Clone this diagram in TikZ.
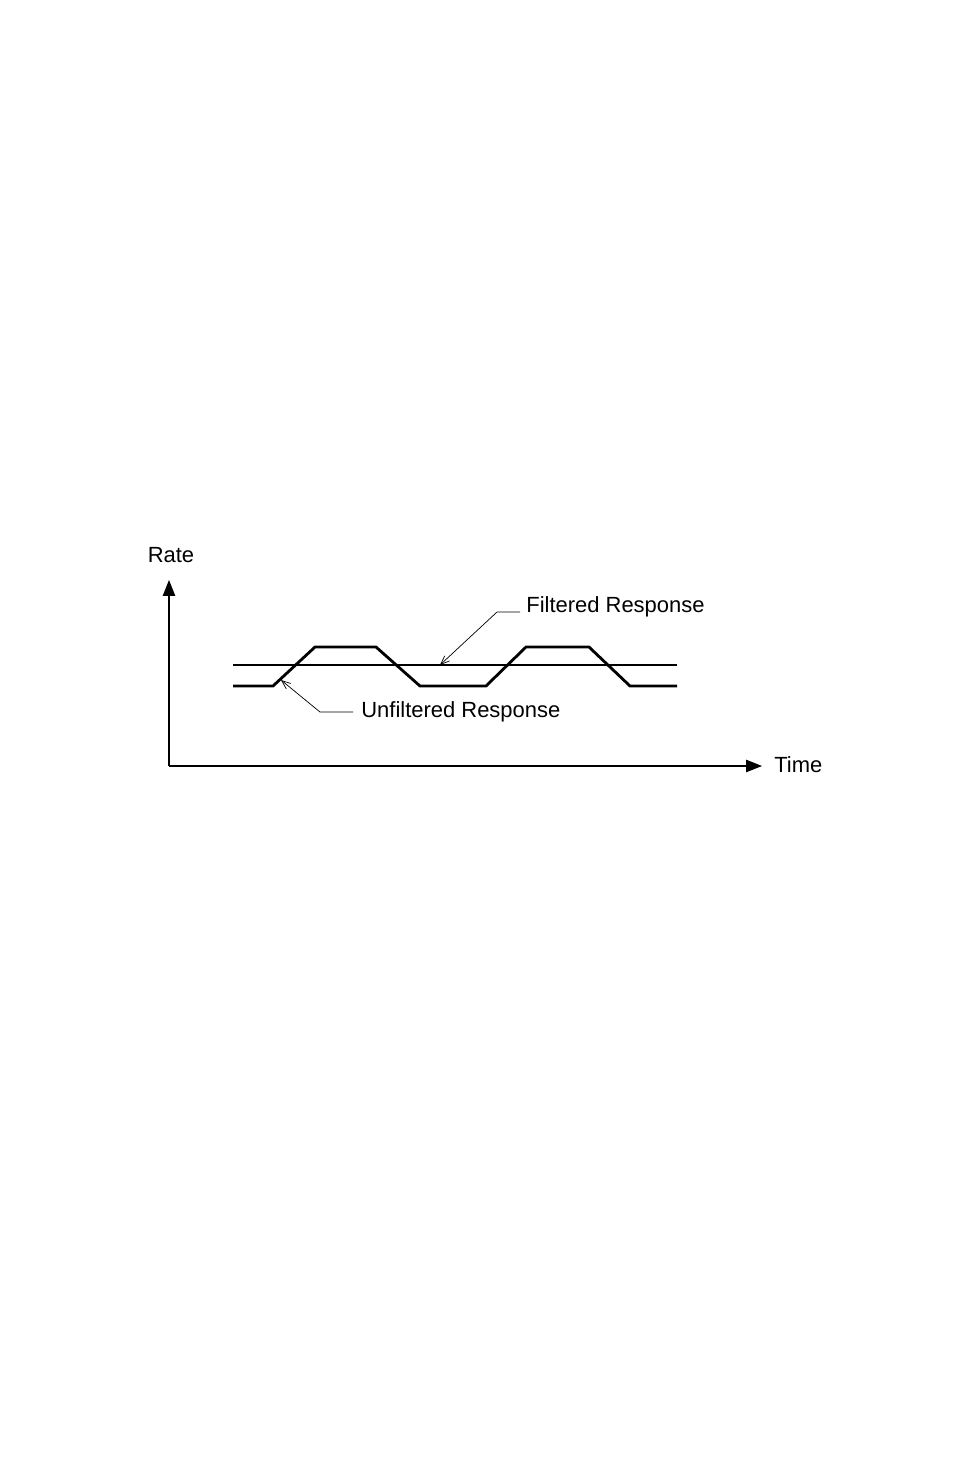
\documentclass[tikz,border=0pt]{standalone}
\usepackage{fontspec}
\setmainfont{Liberation Sans}
\usetikzlibrary{arrows.meta}
\begin{document}
\begin{tikzpicture}[x=0.02cm,y=-0.02cm,
  lbl/.style={font=\fontsize{12.5}{14}\selectfont,inner sep=0pt},
  axis/.style={line width=0.6pt,-{Triangle[length=9pt,width=7pt]}},
  curve/.style={line width=1.6pt},
  leader/.style={line width=0.4pt,-{Straight Barb[length=5pt,width=4pt]}}]
\useasboundingbox (0,0) rectangle (954,1475);
\coordinate (o) at (169,766);
\coordinate (ytip) at (169,580);
\coordinate (xtip) at (762,766);
\draw[axis] (o) -- (ytip);
\draw[axis] (o) -- (xtip);
\node[lbl] (rate) at (171,555) {Rate};
\node[lbl,anchor=west] (time) at (774,765) {Time};
\draw[curve] (233,665) -- (677,665);
\draw[curve] (233,686) -- (273,686) -- (315,647) -- (376,647) -- (420,686) -- (486,686) -- (526,647) -- (589,647) -- (630,686) -- (677,686);
\node[lbl,anchor=west] (filt) at (526,607) {Filtered Response};
\node[lbl,anchor=west] (unf) at (361,712) {Unfiltered Response};
\coordinate (fk) at (497,612);
\coordinate (ftip) at (440,665);
\coordinate (uk) at (320,712);
\coordinate (utip) at (281,680);
\draw[leader] (filt.west|-fk) ++(-6,0) -- (fk) -- (ftip);
\draw[leader] (unf.west|-uk) ++(-8,0) -- (uk) -- (utip);
\end{tikzpicture}
\end{document}
